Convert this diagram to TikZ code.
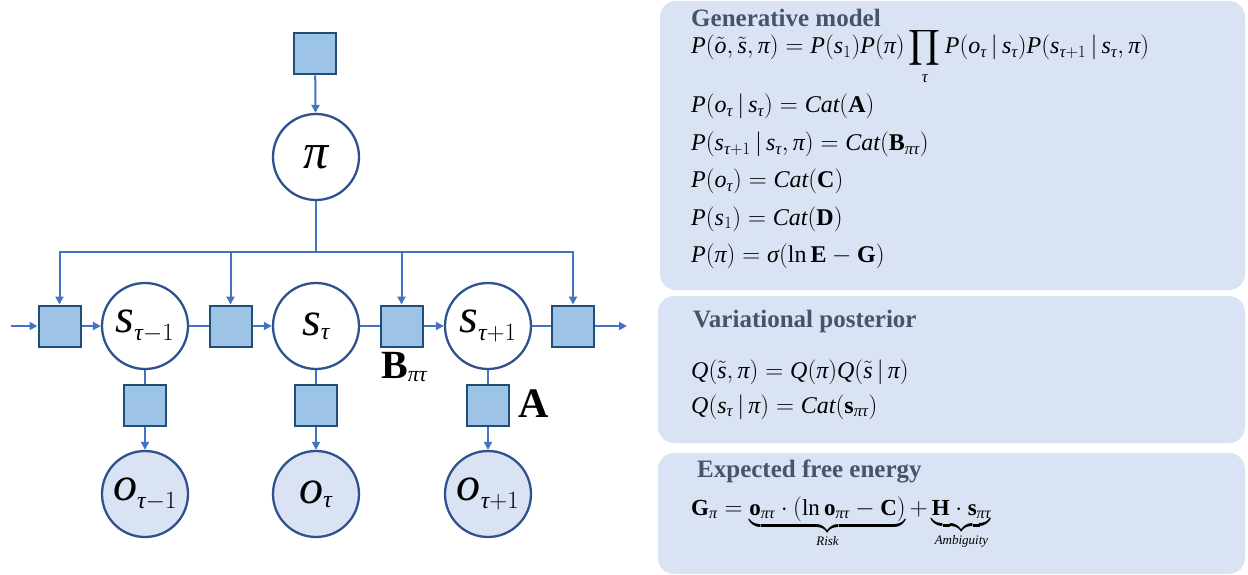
\documentclass[tikz,border=0pt]{standalone}
\usepackage{amsmath}
\usepackage{fontspec}
\setmainfont{Liberation Serif}
\DeclareSymbolFont{tl}{TU}{\rmdefault}{m}{it}
\DeclareSymbolFont{cmop}{OT1}{cmr}{m}{n}
\DeclareMathAccent{\mytilde}{\mathord}{cmop}{"7E}
\newcount\lettc
\lettc=`a
\loop \Umathcode\lettc=7 \symtl \lettc \relax \ifnum\lettc<`z \advance\lettc 1 \repeat
\lettc=`A
\loop \Umathcode\lettc=7 \symtl \lettc \relax \ifnum\lettc<`Z \advance\lettc 1 \repeat
\Umathchardef\pi=0 \symtl "03C0 \relax
\Umathchardef\tau=0 \symtl "03C4 \relax
\Umathchardef\sigma=0 \symtl "03C3 \relax
\usetikzlibrary{arrows.meta}
\definecolor{linec}{HTML}{4472C4}
\definecolor{edgec}{HTML}{2F528F}
\definecolor{sqfill}{HTML}{9DC3E6}
\definecolor{sqedge}{HTML}{1F4E79}
\definecolor{panel}{HTML}{DAE3F3}
\definecolor{headc}{HTML}{44546A}
\newcommand\nlab[2]{\fontsize{48}{48}\selectfont$#1_{\hbox{\fontsize{24}{24}\selectfont$#2$}}$}
\newcommand\brlab[1]{\hbox{\fontsize{13}{13}\selectfont\itshape #1}}
\newcommand\brdepth{\rule[-6pt]{0pt}{6pt}}
\tikzset{
  sq/.style={draw=sqedge, line width=2pt, fill=sqfill, minimum width=42pt, minimum height=41pt, inner sep=0pt},
  var/.style={circle, draw=edgec, line width=2.3pt, fill=white, minimum size=86pt, inner sep=0pt},
  obs/.style={var, fill=panel},
  conn/.style={draw=linec, line width=2pt},
  arr/.style={conn, -{Triangle[width=8pt,length=8pt]}},
  panelbox/.style={fill=panel, rounded corners=16pt},
  head/.style={anchor=base west, text=headc, inner sep=0pt, font=\fontsize{25}{28}\selectfont\bfseries},
  eq/.style={anchor=base west, inner sep=0pt, font=\fontsize{24}{28}\selectfont},
}
\begin{document}
\begin{tikzpicture}[x=1pt,y=-1pt]
\useasboundingbox (0,0) rectangle (1248,575);
\clip (0,0) rectangle (1248,575);
% panels
\path[panelbox] (660,1) rectangle (1245,290);
\path[panelbox] (658,296) rectangle (1245,443);
\path[panelbox] (658,453) rectangle (1245,574);
% graph nodes
\node[sq] (t) at (315,54) {};
\node[var] (pi) at (316,157) {\fontsize{50}{50}\selectfont$\pi$};
\node[sq] (b0) at (59.5,326) {};
\node[var] (s1) at (145,326) {\nlab{s}{\tau{-}1}};
\node[sq] (b1) at (230.5,326) {};
\node[var] (s2) at (316,326) {\nlab{s}{\tau}};
\node[sq] (b2) at (401.5,326) {};
\node[var] (s3) at (488,326) {\nlab{s}{\tau{+}1}};
\node[sq] (b3) at (573,326) {};
\node[sq] (a1) at (145,405) {};
\node[sq] (a2) at (316,405) {};
\node[sq] (a3) at (488,405) {};
\node[obs] (o1) at (145,494) {\nlab{o}{\tau{-}1}};
\node[obs] (o2) at (316,494) {\nlab{o}{\tau}};
\node[obs] (o3) at (488,494) {\nlab{o}{\tau{+}1}};
\coordinate (jc) at (316,252);
\coordinate (j0) at (59.5,252);
\coordinate (j1) at (230.5,252);
\coordinate (j2) at (401.5,252);
\coordinate (j3) at (573,252);
\coordinate (in) at (11,326);
\coordinate (out) at (627,326);
% connectors
\draw[arr] (t) -- (pi);
\draw[conn] (pi) -- (jc);
\draw[conn, line cap=rect] (j0) -- (j3);
\draw[arr] (j0) -- (b0);
\draw[arr] (j1) -- (b1);
\draw[arr] (j2) -- (b2);
\draw[arr] (j3) -- (b3);
\draw[arr] (in) -- (b0);
\draw[arr] (b0) -- (s1);
\draw[conn] (s1) -- (b1);
\draw[arr] (b1) -- (s2);
\draw[conn] (s2) -- (b2);
\draw[arr] (b2) -- (s3);
\draw[conn] (s3) -- (b3);
\draw[arr] (b3) -- (out);
\draw[conn] (s1) -- (a1);
\draw[arr] (a1) -- (o1);
\draw[conn] (s2) -- (a2);
\draw[arr] (a2) -- (o2);
\draw[conn] (s3) -- (a3);
\draw[arr] (a3) -- (o3);
% labels
\node[anchor=base west, inner sep=0pt] (lb) at (381,378) {\fontsize{40}{40}\selectfont$\mathbf{B}_{\hbox{\fontsize{22}{22}\selectfont$\pi\tau$}}$};
\node[anchor=base west, inner sep=0pt] (la) at (518,417) {\fontsize{42}{42}\selectfont$\mathbf{A}$};
% panel 1
\node[head] (h1) at (691,27) {Generative model};
\node[eq] (e1) at (691,54) {$P(\mytilde{o},\mytilde{s},\pi)=P(s_1)P(\pi)\displaystyle\prod_{\tau}P(o_\tau\,|\,s_\tau)P(s_{\tau+1}\,|\,s_\tau,\pi)$};
\node[eq] (e2) at (691,113) {$P(o_\tau\,|\,s_\tau)=Cat(\mathbf{A})$};
\node[eq] (e3) at (691,151) {$P(s_{\tau+1}\,|\,s_\tau,\pi)=Cat(\mathbf{B}_{\pi\tau})$};
\node[eq] (e4) at (691,188) {$P(o_\tau)=Cat(\mathbf{C})$};
\node[eq] (e5) at (691,225) {$P(s_1)=Cat(\mathbf{D})$};
\node[eq] (e6) at (691,262) {$P(\pi)=\sigma(\ln\mathbf{E}-\mathbf{G})$};
% panel 2
\node[head] (h2) at (693,327) {Variational posterior};
\node[eq] (q1) at (691,378) {$Q(\mytilde{s},\pi)=Q(\pi)Q(\mytilde{s}\,|\,\pi)$};
\node[eq] (q2) at (691,413) {$Q(s_\tau\,|\,\pi)=Cat(\mathbf{s}_{\pi\tau})$};
% panel 3
\node[head] (h3) at (697,477) {Expected free energy};
\node[eq, font=\fontsize{23}{26}\selectfont] (g1) at (691,515) {$\mathbf{G}_\pi=\underbrace{\mathbf{o}_{\pi\tau}\cdot(\ln\mathbf{o}_{\pi\tau}-\mathbf{C})\brdepth}_{\brlab{Risk}}+\underbrace{\mathbf{H}\cdot\mathbf{s}_{\pi\tau}\brdepth}_{\brlab{Ambiguity}}$};
\end{tikzpicture}
\end{document}
